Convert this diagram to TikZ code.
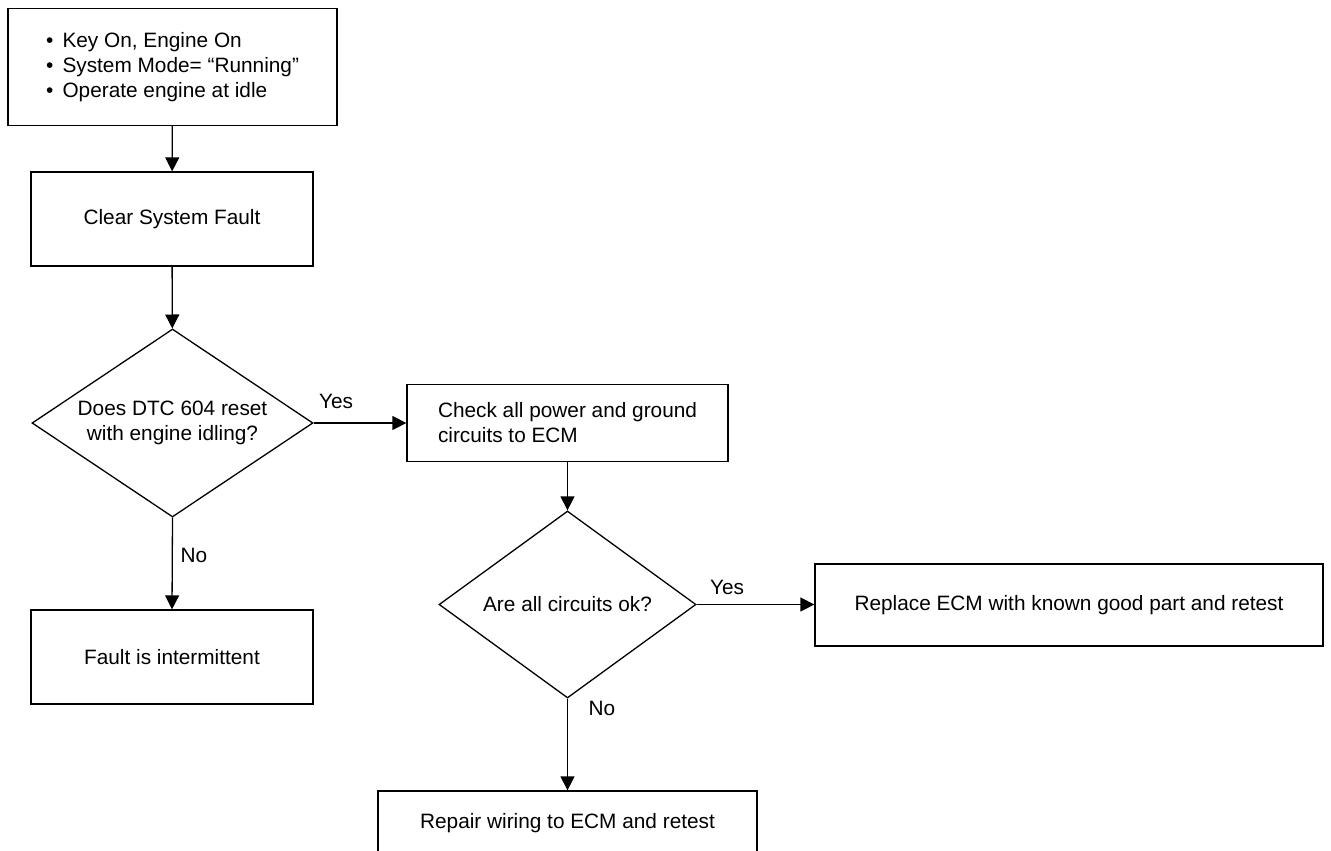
\documentclass[tikz,border=0pt]{standalone}
\usepackage{fontspec}
\setmainfont{Liberation Sans}
\usetikzlibrary{arrows.meta,shapes.geometric}

\begin{document}
\begin{tikzpicture}[x=0.5pt,y=-0.5pt,>={Triangle[length=7pt,width=7pt]},
  every node/.style={font=\fontsize{10.4}{12.5}\selectfont},
  stepbox/.style={draw,line width=0.65pt,rectangle,inner sep=0pt},
  askbox/.style={draw,line width=0.65pt,diamond,inner sep=0pt,aspect=1.5},
  flow/.style={->,line width=0.65pt},
  ans/.style={inner sep=1pt}]
  \useasboundingbox (0,0) rectangle (1331,850);
  \node[stepbox,minimum width=164.5pt,minimum height=58.5pt,align=left] (Start) at (172.5,67)
     {\textbullet\ \,Key On, Engine On\\\textbullet\ \,System Mode= “Running”\\\textbullet\ \,Operate engine at idle};
  \node[stepbox,minimum width=141pt,minimum height=47pt] (Clear) at (172,219) {Clear System Fault};
  \node[askbox,minimum width=140.5pt,minimum height=94pt,align=center] (Qreset) at (172.5,423)
     {Does DTC 604 reset\\with engine idling?};
  \node[stepbox,minimum width=141pt,minimum height=47pt] (Intermit) at (172,657) {Fault is intermittent};
  \node[stepbox,minimum width=160.5pt,minimum height=38.5pt,align=left] (Check) at (567.5,423)
     {Check all power and ground\\circuits to ECM};
  \node[askbox,minimum width=128.5pt,minimum height=93.5pt] (Qok) at (567.5,604.5) {Are all circuits ok?};
  \node[stepbox,minimum width=254pt,minimum height=41pt] (Replace) at (1069,605)
     {Replace ECM with known good part and retest};
  \node[stepbox,minimum width=189.5pt,minimum height=32pt] (Repair) at (567.5,823)
     {Repair wiring to ECM and retest};
  % connectors and their answers
  \draw[flow] (Start) -- (Clear);
  \draw[flow] (Clear) -- (Qreset);
  \draw[flow] (Qreset.east) -- (Check.west);
  \node[ans] (QresetYes) at (336,401) {Yes};
  \draw[flow] (Qreset.south) -- (Intermit.north);
  \node[ans] (QresetNo) at (194,555) {No};
  \draw[flow] (Check) -- (Qok);
  \draw[flow] (Qok.east) -- (Qok.east -| Replace.west);
  \node[ans] (QokYes) at (727,587) {Yes};
  \draw[flow] (Qok.south) -- (Repair.north);
  \node[ans] (QokNo) at (602,708) {No};
\end{tikzpicture}
\end{document}
